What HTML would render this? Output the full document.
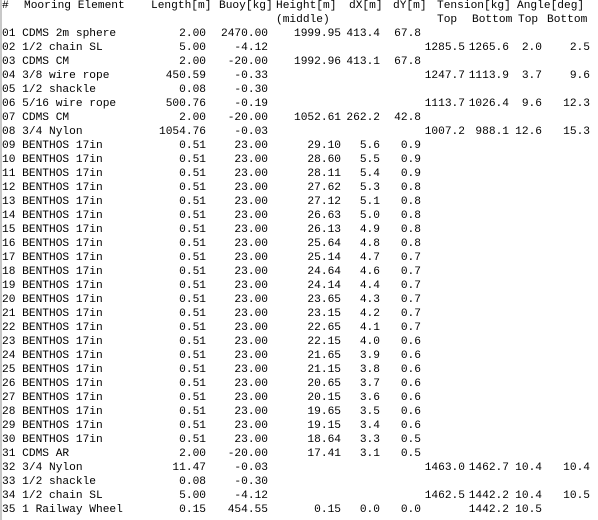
<!DOCTYPE html>
<html><head><meta charset="utf-8">
<style>
html,body{margin:0;padding:0;background:#fff;}
#wrap{position:relative;width:598px;height:520px;overflow:hidden;background:#fff;font-family:"Liberation Mono",monospace;font-size:11.2px;color:#000;}
#border{position:absolute;left:0;top:0;width:2px;height:520px;background:#c8c8c8;}
.c{position:absolute;white-space:pre;line-height:14px;height:14px;}
.r{text-align:right;}
</style></head>
<body>
<div id="wrap">
<div id="border"></div>
</div>
<script>
const headers1 = [["#",2],["Mooring Element",24],["Length[m]",151],["Buoy[kg]",219],["Height[m]",276],["dX[m]",349],["dY[m]",393],["Tension[kg]",437],["Angle[deg]",517]];
const headers2 = [["(middle)",276],["Top",437],["Bottom",472],["Top",518],["Bottom",547]];
const names = ["CDMS 2m sphere","1/2 chain SL","CDMS CM","3/8 wire rope","1/2 shackle","5/16 wire rope","CDMS CM","3/4 Nylon",
"BENTHOS 17in","BENTHOS 17in","BENTHOS 17in","BENTHOS 17in","BENTHOS 17in","BENTHOS 17in","BENTHOS 17in","BENTHOS 17in","BENTHOS 17in","BENTHOS 17in","BENTHOS 17in","BENTHOS 17in","BENTHOS 17in","BENTHOS 17in","BENTHOS 17in","BENTHOS 17in","BENTHOS 17in","BENTHOS 17in","BENTHOS 17in","BENTHOS 17in","BENTHOS 17in","BENTHOS 17in",
"CDMS AR","3/4 Nylon","1/2 shackle","1/2 chain SL","1 Railway Wheel"];
const lengths = ["2.00","5.00","2.00","450.59","0.08","500.76","2.00","1054.76","0.51","0.51","0.51","0.51","0.51","0.51","0.51","0.51","0.51","0.51","0.51","0.51","0.51","0.51","0.51","0.51","0.51","0.51","0.51","0.51","0.51","0.51","2.00","11.47","0.08","5.00","0.15"];
const buoys = ["2470.00","-4.12","-20.00","-0.33","-0.30","-0.19","-20.00","-0.03","23.00","23.00","23.00","23.00","23.00","23.00","23.00","23.00","23.00","23.00","23.00","23.00","23.00","23.00","23.00","23.00","23.00","23.00","23.00","23.00","23.00","23.00","-20.00","-0.03","-0.30","-4.12","454.55"];
const heights = ["1999.95","","1992.96","","","","1052.61","","29.10","28.60","28.11","27.62","27.12","26.63","26.13","25.64","25.14","24.64","24.14","23.65","23.15","22.65","22.15","21.65","21.15","20.65","20.15","19.65","19.15","18.64","17.41","","","","0.15"];
const dxs = ["413.4","","413.1","","","","262.2","","5.6","5.5","5.4","5.3","5.1","5.0","4.9","4.8","4.7","4.6","4.4","4.3","4.2","4.1","4.0","3.9","3.8","3.7","3.6","3.5","3.4","3.3","3.1","","","","0.0"];
const dys = ["67.8","","67.8","","","","42.8","","0.9","0.9","0.9","0.8","0.8","0.8","0.8","0.8","0.7","0.7","0.7","0.7","0.7","0.7","0.6","0.6","0.6","0.6","0.6","0.6","0.6","0.5","0.5","","","","0.0"];
const tensionTop = ["","1285.5","","1247.7","","1113.7","","1007.2","","","","","","","","","","","","","","","","","","","","","","","","1463.0","","1462.5",""];
const tensionBottom = ["","1265.6","","1113.9","","1026.4","","988.1","","","","","","","","","","","","","","","","","","","","","","","","1462.7","","1442.2","1442.2"];
const angleTop = ["","2.0","","3.7","","9.6","","12.6","","","","","","","","","","","","","","","","","","","","","","","","10.4","","10.4","10.5"];
const angleBottom = ["","2.5","","9.6","","12.3","","15.3","","","","","","","","","","","","","","","","","","","","","","","","10.4","","10.5",""];

const wrap = document.getElementById('wrap');
function cell(text, x, line, right, name){
  const d = document.createElement('div');
  d.className = 'c' + (right ? ' r' : '');
  d.textContent = text;
  d.style.top = (-1 + line*14) + 'px';
  if (right){ d.style.right = (598 - x) + 'px'; } else { d.style.left = x + 'px'; }
  
  
  wrap.appendChild(d);
}
headers1.forEach(h => cell(h[0], h[1], 0, false, 'column-header'));
headers2.forEach(h => cell(h[0], h[1], 1, false, 'column-subheader'));
const cols = [[lengths,206],[buoys,268],[heights,341],[dxs,380],[dys,421],[tensionTop,465],[tensionBottom,509],[angleTop,542],[angleBottom,590]];
names.forEach((n,i) => {
  const line = i + 2;
  const num = String(i+1).padStart(2,'0');
  cell(num + ' ' + n, 2, line, false, 'row-element-name');
  cols.forEach(c => { if (c[0][i]) cell(c[0][i], c[1], line, true, 'row-value'); });
});
</script>
</body></html>
